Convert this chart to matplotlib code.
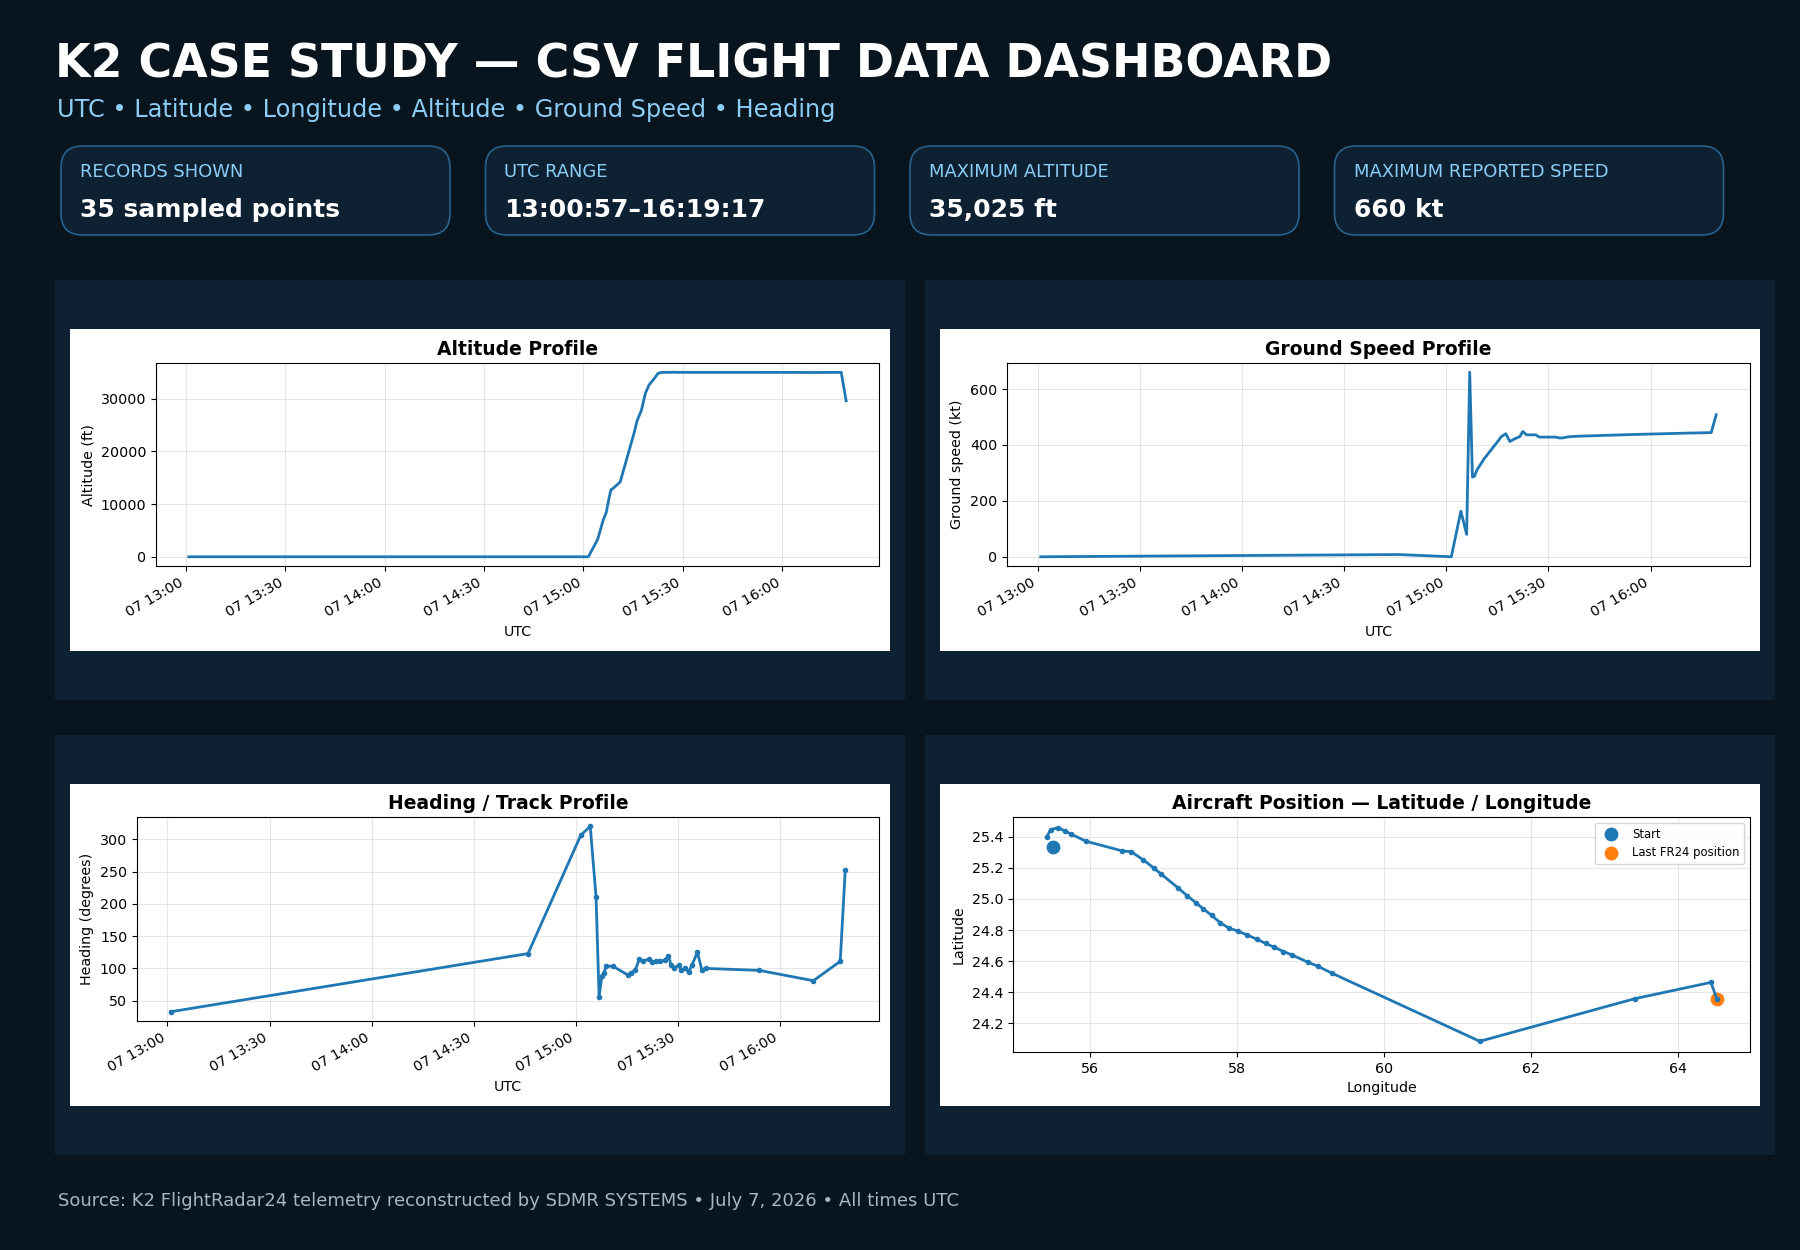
import matplotlib
matplotlib.use("Agg")
import matplotlib.pyplot as plt
import matplotlib.dates as mdates
import pandas as pd
from matplotlib.patches import Rectangle, FancyBboxPatch

# ---- flight data ----
utc_times = ["13:00:57", "14:46:00", "15:01:30", "15:04:18", "15:06:00", "15:06:54",
             "15:07:42", "15:08:18", "15:09:00", "15:11:06", "15:15:18", "15:16:12",
             "15:17:30", "15:18:42", "15:19:48", "15:21:36", "15:22:30", "15:23:36",
             "15:24:48", "15:26:18", "15:27:18", "15:28:00", "15:29:00", "15:30:18",
             "15:31:06", "15:32:12", "15:33:12", "15:34:12", "15:35:48", "15:37:06",
             "15:38:18", "15:54:00", "16:09:54", "16:17:48", "16:19:17"]
altitude_ft = [0, 0, 0, 3300, 7000, 8400, 11000, 12700, 13000, 14200, 23500, 25800,
               27800, 31000, 32600, 34000, 34800, 35000, 35000, 35000, 35025, 35000,
               35000, 35000, 35000, 35000, 35000, 35000, 35000, 35000, 35000, 35000,
               34975, 35000, 29600]
ground_speed_kt = [0, 8, 0, 163, 80, 660, 285, 288, 310, 350, 415, 430, 440, 412, 420,
                   430, 448, 436, 436, 436, 428, 428, 428, 428, 428, 428, 425, 425, 429,
                   430, 431, 437, 442, 444, 508]
heading_deg = [33, 123, 306, 320, 211, 56, 88, 93, 104, 103, 90, 93, 97, 114, 112, 114,
               110, 111, 111, 113, 120, 106, 101, 105, 97, 101, 94, 105, 125, 98, 100,
               97, 81, 111, 253]
latitude = [25.335, 25.336, 25.333, 25.397, 25.447, 25.460, 25.440, 25.420, 25.372,
            25.310, 25.305, 25.253, 25.200, 25.161, 25.074, 25.020, 24.977, 24.936,
            24.895, 24.848, 24.812, 24.792, 24.769, 24.741, 24.713, 24.689, 24.661,
            24.638, 24.591, 24.565, 24.522, 24.082, 24.357, 24.462, 24.357]
longitude = [55.507, 55.509, 55.510, 55.416, 55.470, 55.570, 55.660, 55.742, 55.955,
             56.448, 56.566, 56.729, 56.873, 56.973, 57.197, 57.329, 57.443, 57.547,
             57.660, 57.773, 57.896, 58.023, 58.136, 58.272, 58.394, 58.512, 58.635,
             58.757, 58.974, 59.110, 59.292, 61.304, 63.410, 64.445, 64.525]
map_lon_range = (54.96, 64.976)

df = pd.DataFrame({"utc": pd.to_datetime(["2026-07-07 " + t for t in utc_times]),
                   "alt": altitude_ft, "gs": ground_speed_kt, "hdg": heading_deg,
                   "lat": latitude, "lon": longitude})

BG = "#08141e"
CARD = "#0d2133"
BORDER = "#2a628a"
LABEL = "#8ccdf5"
W, H = 1800, 1250

fig = plt.figure(figsize=(18, 12.5), dpi=100, facecolor=BG)


def box(x, y, w, h):    # pixel box (top-left origin) -> figure fraction
    return [x / W, 1 - (y + h) / H, w / W, h / H]


# ---- header ----
fig.text(55 / W, 1 - 65 / H, "K2 CASE STUDY \u2014 CSV FLIGHT DATA DASHBOARD",
         color="white", fontsize=33, fontweight="bold", va="center")
fig.text(57 / W, 1 - 110 / H, "UTC \u2022 Latitude \u2022 Longitude \u2022 Altitude \u2022 Ground Speed \u2022 Heading",
         color=LABEL, fontsize=17.3, va="center")

# ---- KPI cards ----
kpis = [("RECORDS SHOWN", f"{len(df)} sampled points"),
        ("UTC RANGE", f"{utc_times[0]}\u2013{utc_times[-1]}"),
        ("MAXIMUM ALTITUDE", f"{max(altitude_ft):,} ft"),
        ("MAXIMUM REPORTED SPEED", f"{max(ground_speed_kt)} kt")]
for i, (lab, val) in enumerate(kpis):
    x0 = 61 + i * 424.5
    x, y, w, h = box(x0, 146, 389, 89)
    fig.add_artist(FancyBboxPatch((x, y), w, h, boxstyle="round,pad=0,rounding_size=0.012",
                                  transform=fig.transFigure, facecolor=CARD,
                                  edgecolor=BORDER, linewidth=1.2, zorder=-2,
                                  mutation_aspect=W / H))
    fig.text((x0 + 19) / W, 1 - 172 / H, lab, color=LABEL, fontsize=12.9, va="center")
    fig.text((x0 + 19) / W, 1 - 210 / H, val, color="white", fontsize=18,
             fontweight="bold", va="center")

# ---- chart panels ----
panels = [(55, 280), (925, 280), (55, 735), (925, 735)]
axes = []
for (px, py), (l, t, r, b) in zip(panels, [(86, 34, 11, 85), (67, 34, 10, 85),
                                           (67, 33, 11, 85), (73, 33, 10, 54)]):
    fig.add_artist(Rectangle(box(px, py, 850, 420)[:2], 850 / W, 420 / H,
                             transform=fig.transFigure, facecolor=CARD,
                             edgecolor="none", zorder=-2))
    wx, wy = px + 15, py + 49
    fig.add_artist(Rectangle(box(wx, wy, 820, 322)[:2], 820 / W, 322 / H,
                             transform=fig.transFigure, facecolor="white",
                             edgecolor="none", zorder=-1))
    axes.append(fig.add_axes(box(wx + l, wy + t, 820 - l - r, 322 - t - b)))

ax_alt, ax_gs, ax_hdg, ax_map = axes
TITLE_FS = 13.5
FS = 10.3

ax_alt.plot(df["utc"], df["alt"], color="#1f77b4", linewidth=2)
ax_alt.set_title("Altitude Profile", fontsize=TITLE_FS, fontweight="bold")
ax_alt.set_ylabel("Altitude (ft)", fontsize=FS)

ax_gs.plot(df["utc"], df["gs"], color="#1f77b4", linewidth=2)
ax_gs.set_title("Ground Speed Profile", fontsize=TITLE_FS, fontweight="bold")
ax_gs.set_ylabel("Ground speed (kt)", fontsize=FS)

ax_hdg.plot(df["utc"], df["hdg"], color="#1f77b4", linewidth=2, marker="o", markersize=3)
ax_hdg.set_title("Heading / Track Profile", fontsize=TITLE_FS, fontweight="bold")
ax_hdg.set_ylabel("Heading (degrees)", fontsize=FS)

for ax in (ax_alt, ax_gs, ax_hdg):
    ax.set_xlabel("UTC", fontsize=FS)
    ax.xaxis.set_major_locator(mdates.MinuteLocator(byminute=[0, 30]))
    ax.xaxis.set_major_formatter(mdates.DateFormatter("%d %H:%M"))
    plt.setp(ax.get_xticklabels(), rotation=30, ha="right")
    ax.tick_params(labelsize=FS)
    ax.grid(True, alpha=0.3)

# track line uses the airborne points, start marker is the first record
airborne = df[df["alt"] > 0]
ax_map.plot(airborne["lon"], airborne["lat"], color="#1f77b4", linewidth=2,
            marker="o", markersize=3)
ax_map.scatter(df["lon"].iloc[0], df["lat"].iloc[0], s=80, color="#1f77b4", label="Start")
ax_map.scatter(df["lon"].iloc[-1], df["lat"].iloc[-1], s=80, color="#ff7f0e",
               label="Last FR24 position")
ax_map.set_xlim(*map_lon_range)
ax_map.set_title("Aircraft Position \u2014 Latitude / Longitude", fontsize=TITLE_FS, fontweight="bold")
ax_map.set_xlabel("Longitude", fontsize=FS)
ax_map.set_ylabel("Latitude", fontsize=FS)
ax_map.tick_params(labelsize=FS)
ax_map.grid(True, alpha=0.3)
ax_map.legend(loc="upper right", fontsize=8.4)

# ---- footer ----
fig.text(58 / W, 1 - 1201 / H,
         "Source: K2 FlightRadar24 telemetry reconstructed by SDMR SYSTEMS \u2022 July 7, 2026 \u2022 All times UTC",
         color="#a9b6c2", fontsize=13, va="center")

fig.savefig("out.png", dpi=100, facecolor=BG)
